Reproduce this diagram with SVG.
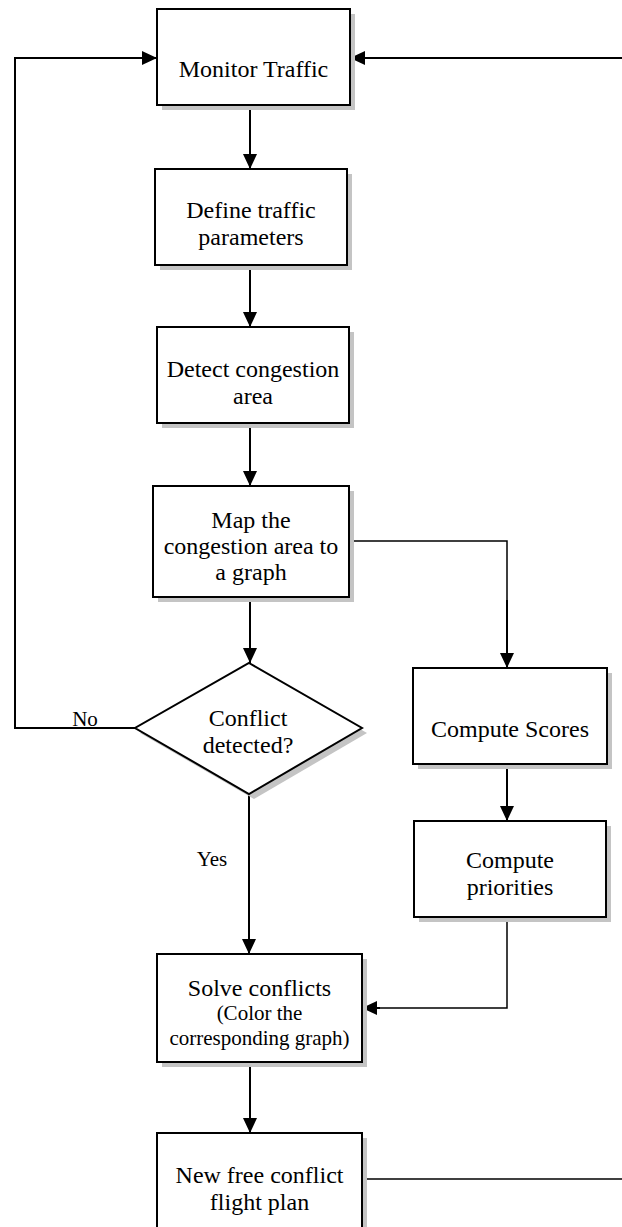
<svg xmlns="http://www.w3.org/2000/svg" width="622" height="1227" viewBox="0 0 622 1227">
<style>
.box{fill:#fff;stroke:#000;stroke-width:2}
.sh{fill:#c4c4c4}
.t{font-family:"Liberation Serif","Times New Roman",serif;font-size:24px;text-anchor:middle;fill:#000}
.s{font-family:"Liberation Serif","Times New Roman",serif;font-size:21px;text-anchor:middle;fill:#000}
.c{fill:none;stroke:#000;stroke-width:2}
.thin{fill:none;stroke:#000;stroke-width:1.5}
</style>
<defs>
<marker id="ah" markerUnits="userSpaceOnUse" markerWidth="16" markerHeight="15" refX="15" refY="7" orient="auto">
<path d="M0,0 L15,7 L0,14 z" fill="#000"/>
</marker>
</defs>
<rect x="0" y="0" width="622" height="1227" fill="#fff"/>
<g id="connectors">
<path class="c" d="M250,105 V169" marker-end="url(#ah)"/>
<path class="c" d="M250,265 V327" marker-end="url(#ah)"/>
<path class="c" d="M250,423 V486" marker-end="url(#ah)"/>
<path class="c" d="M250,597 V663" marker-end="url(#ah)"/>
<path class="c" d="M135,728 H15 V58 H157" marker-end="url(#ah)"/>
<path class="c" d="M622,58 H350" marker-end="url(#ah)"/>
<path class="thin" d="M349,541 H507 V600"/>
<path class="c" d="M507,600 V668" marker-end="url(#ah)"/>
<path class="c" d="M507,764 V821" marker-end="url(#ah)"/>
<path class="c" d="M249,794 V954" marker-end="url(#ah)"/>
<path class="thin" d="M507,917 V1008 H375"/>
<path class="c" d="M380,1008 H362" marker-end="url(#ah)"/>
<path class="c" d="M250,1062 V1133" marker-end="url(#ah)"/>
<path class="thin" d="M362,1179 H622"/>
<text class="s" x="85" y="726">No</text>
<text class="s" x="212" y="866">Yes</text>
</g>
<g id="monitor">
<rect class="sh" x="162" y="14" width="193" height="96"/>
<rect class="box" x="157" y="9" width="193" height="96"/>
<text class="t" x="253.5" y="77">Monitor Traffic</text>
</g>
<g id="define">
<rect class="sh" x="160" y="174" width="192" height="96"/>
<rect class="box" x="155" y="169" width="192" height="96"/>
<text class="t" x="251" y="218">Define traffic</text>
<text class="t" x="251" y="245">parameters</text>
</g>
<g id="detect">
<rect class="sh" x="162" y="332" width="192" height="96"/>
<rect class="box" x="157" y="327" width="192" height="96"/>
<text class="t" x="253" y="377">Detect congestion</text>
<text class="t" x="253" y="404">area</text>
</g>
<g id="map">
<rect class="sh" x="158" y="491" width="196" height="111"/>
<rect class="box" x="153" y="486" width="196" height="111"/>
<text class="t" x="251" y="528">Map the</text>
<text class="t" x="251" y="554">congestion area to</text>
<text class="t" x="251" y="580">a graph</text>
</g>
<g id="decision">
<polygon class="sh" points="254,668 367,733 254,799 140,733"/>
<polygon class="box" points="249,663 362,728 249,794 135,728"/>
<text class="t" x="248" y="726">Conflict</text>
<text class="t" x="248" y="753">detected?</text>
</g>
<g id="scores">
<rect class="sh" x="418" y="673" width="194" height="96"/>
<rect class="box" x="413" y="668" width="194" height="96"/>
<text class="t" x="510" y="737">Compute Scores</text>
</g>
<g id="priorities">
<rect class="sh" x="419" y="826" width="192" height="96"/>
<rect class="box" x="414" y="821" width="192" height="96"/>
<text class="t" x="510" y="868">Compute</text>
<text class="t" x="510" y="895">priorities</text>
</g>
<g id="solve">
<rect class="sh" x="162" y="959" width="205" height="108"/>
<rect class="box" x="157" y="954" width="205" height="108"/>
<text class="t" x="259.5" y="996">Solve conflicts</text>
<text class="s" x="259.5" y="1020">(Color the</text>
<text class="s" x="259.5" y="1045">corresponding graph)</text>
</g>
<g id="newplan">
<rect class="sh" x="162" y="1138" width="205" height="100"/>
<rect class="box" x="157" y="1133" width="205" height="100"/>
<text class="t" x="259.5" y="1183">New free conflict</text>
<text class="t" x="259.5" y="1210">flight plan</text>
</g>
</svg>
